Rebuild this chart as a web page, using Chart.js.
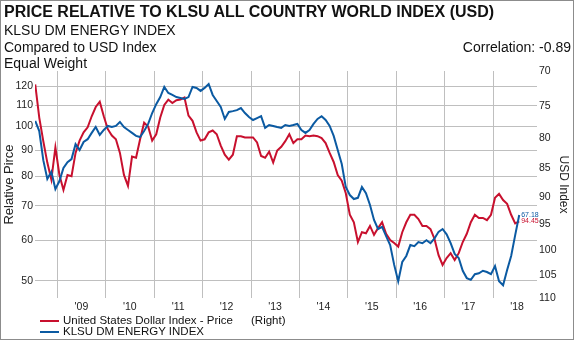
<!DOCTYPE html>
<html>
<head>
<meta charset="utf-8">
<script src="https://cdn.jsdelivr.net/npm/chart.js@4.4.1/dist/chart.umd.min.js"></script>
<style>
  body { margin: 0; background: #fff; font-family: "Liberation Sans", Arial, sans-serif; }
  #wrap { position: relative; width: 574px; height: 340px; overflow: hidden; }
  #frame { position: absolute; left: 0; top: 0; width: 574px; height: 340px; box-sizing: border-box; border: 1px solid #8c8c8c; pointer-events: none; }
  .txt { position: absolute; white-space: nowrap; line-height: 1; color: #111; }
  .sw { position: absolute; width: 19px; height: 2px; }
  canvas { position: absolute; left: 0; top: 0; }
</style>
</head>
<body>
<div id="wrap">
  <canvas id="relChart" width="574" height="340"></canvas>

  <div class="txt" style="left:4px;top:4px;font-size:16px;font-weight:bold;">PRICE RELATIVE TO KLSU ALL COUNTRY WORLD INDEX (USD)</div>
  <div class="txt" style="left:4px;top:23px;font-size:14px;">KLSU DM ENERGY INDEX</div>
  <div class="txt" style="left:4px;top:40px;font-size:14px;">Compared to USD Index</div>
  <div class="txt" style="right:3px;top:40px;font-size:14px;">Correlation: -0.89</div>
  <div class="txt" style="left:4px;top:56px;font-size:14px;">Equal Weight</div>

  <!-- legend -->
  <div class="sw" style="left:40px;top:320px;background:#c8102e;"></div>
  <div class="txt" style="left:63px;top:315px;font-size:11.5px;">United States Dollar Index - Price</div>
  <div class="txt" style="left:251px;top:315px;font-size:11.5px;">(Right)</div>
  <div class="sw" style="left:40px;top:331px;background:#0b5aa2;"></div>
  <div class="txt" style="left:63px;top:326px;font-size:11.5px;">KLSU DM ENERGY INDEX</div>

  <div id="frame"></div>
</div>

<script>
// monthly readings, Jul 2008 .. Jul 2018
const startYear = 2008;
const startMonth = 7;

// United States Dollar Index - Price (right axis)
const usdValues = [
  71.9, 76.8, 80.5, 84.0, 86.9, 81.5, 86.1, 88.7, 86.1, 86.3,
  82.4, 80.4, 79.1, 78.3, 76.6, 75.2, 74.4, 76.6, 78.6, 79.6,
  80.2, 82.4, 86.1, 88.0, 83.0, 83.2, 80.2, 77.6, 78.2, 80.4,
  79.4, 76.8, 74.9, 74.1, 74.6, 74.2, 74.1, 73.8, 76.5, 77.3,
  79.1, 80.4, 80.2, 79.1, 78.8, 79.4, 81.2, 82.7, 83.5, 82.7,
  79.7, 79.7, 79.9, 79.9, 79.9, 80.7, 82.9, 83.2, 82.2, 84.0,
  82.0, 81.4, 80.5, 79.4, 80.8, 80.2, 80.2, 79.6, 79.7, 79.6,
  79.7, 80.0, 80.8, 82.4, 83.9, 86.1, 87.1, 89.3, 93.2, 94.6,
  98.4, 96.5, 96.7, 95.3, 97.0, 95.7, 94.6, 96.8, 98.0, 98.6,
  99.3, 96.5, 94.6, 93.2, 93.2, 94.0, 95.3, 95.3, 95.9, 97.8,
  101.0, 103.0, 101.6, 100.6, 102.0, 100.6, 98.4, 96.8, 94.6, 93.2,
  93.8, 93.8, 94.2, 93.2, 90.1, 89.4, 90.5, 91.2, 93.2, 94.8,
  94.45
];

// KLSU DM ENERGY INDEX relative price (left axis)
const energyValues = [
  102.6, 98.0, 86.0, 79.0, 81.6, 75.5, 78.3, 83.0, 85.2, 86.4,
  92.4, 90.0, 93.3, 94.5, 97.2, 99.8, 96.3, 98.5, 100.3, 99.8,
  100.3, 102.1, 99.8, 98.5, 97.2, 95.9, 95.4, 98.0, 101.2, 106.3,
  110.6, 114.2, 119.5, 116.3, 115.3, 114.2, 113.7, 113.2, 114.2, 119.5,
  119.0, 117.4, 119.0, 121.1, 115.3, 112.2, 109.2, 103.5, 106.8, 107.2,
  107.7, 108.7, 106.3, 104.4, 103.0, 103.9, 104.8, 99.4, 100.7, 100.3,
  99.8, 99.4, 100.7, 100.3, 100.7, 101.2, 98.5, 97.2, 98.5, 101.2,
  103.5, 104.8, 103.0, 100.3, 95.9, 90.0, 84.5, 76.2, 73.5, 72.2,
  72.6, 76.2, 74.1, 70.3, 65.7, 63.1, 63.7, 61.1, 58.7, 53.7,
  49.9, 54.4, 55.9, 58.7, 58.4, 59.5, 59.2, 60.0, 59.2, 60.5,
  62.3, 63.1, 61.6, 59.2, 56.4, 55.4, 52.3, 50.6, 50.2, 51.5,
  51.7, 52.3, 52.0, 51.5, 53.4, 49.9, 49.0, 52.5, 55.9, 61.4,
  67.18
];

const yearTicks = [2009, 2010, 2011, 2012, 2013, 2014, 2015, 2016, 2017, 2018];
const leftTicks = [50, 60, 70, 80, 90, 100, 110, 120];
const rightTicks = [70, 75, 80, 85, 90, 95, 100, 105, 110];

const months = usdValues.map((_, i) => {
  const m = startMonth - 1 + i;
  return (startYear + Math.floor(m / 12)) + "-" + String((m % 12) + 1).padStart(2, "0");
});
const toYear = (s) => {
  const [y, m] = s.split("-").map(Number);
  return y + (m - 0.5) / 12;
};

const red = "#c8102e";
const blue = "#0b5aa2";
const gridColor = "#bfbfbf";
const tickFont = { size: 10.5 };

Chart.defaults.font.family = '"Liberation Sans", Arial, sans-serif';
Chart.defaults.color = "#222";

// value labels at the end of each line
const endLabels = {
  id: "endLabels",
  afterDatasetsDraw(chart) {
    const c = chart.ctx;
    c.save();
    c.font = '7px "Liberation Sans", Arial, sans-serif';
    c.textBaseline = "middle";
    chart.data.datasets.forEach((ds, i) => {
      const pts = chart.getDatasetMeta(i).data;
      const p = pts[pts.length - 1];
      c.fillStyle = ds.borderColor;
      c.fillText(ds.data[ds.data.length - 1].y.toFixed(2), p.x + 2, p.y);
    });
    c.restore();
  },
};

const ctx = document.getElementById("relChart").getContext("2d");
const relChart = new Chart(ctx, {
  type: "line",
  data: {
    datasets: [
      {
        label: "KLSU DM ENERGY INDEX",
        data: months.map((m, i) => ({ x: toYear(m), y: energyValues[i] })),
        borderColor: blue,
        yAxisID: "y",
        order: 0,
      },
      {
        label: "United States Dollar Index - Price",
        data: months.map((m, i) => ({ x: toYear(m), y: usdValues[i] })),
        borderColor: red,
        yAxisID: "y1",
        order: 1,
      },
    ],
  },
  options: {
    responsive: false,
    animation: false,
    devicePixelRatio: 1,
    layout: { padding: { top: 71, bottom: 26, left: 0, right: 0 } },
    plugins: { legend: { display: false }, tooltip: { enabled: false } },
    elements: {
      point: { radius: 0 },
      line: { borderWidth: 2, tension: 0 },
    },
    scales: {
      x: {
        type: "linear",
        min: 2008.537,
        max: 2018.909,
        afterBuildTicks: (s) => { s.ticks = yearTicks.map((v) => ({ value: v })); },
        afterFit: (s) => { s.height = 16; },
        grid: { color: gridColor, drawTicks: false },
        border: { display: false },
        ticks: {
          font: tickFont,
          padding: 3,
          labelOffset: 24,
          maxRotation: 0,
          autoSkip: false,
          callback: (v) => "'" + String(v).slice(2),
        },
      },
      y: {
        type: "logarithmic",
        position: "left",
        min: 46.27,
        max: 128.4,
        afterBuildTicks: (s) => { s.ticks = leftTicks.map((v) => ({ value: v })); },
        afterFit: (s) => { s.width = 35; },
        grid: { color: gridColor, drawTicks: false },
        border: { display: false },
        ticks: { font: tickFont, padding: 2, callback: (v) => String(v) },
        title: { display: true, text: "Relative Pirce", font: { size: 13 }, padding: { top: 2, bottom: 0 } },
      },
      y1: {
        type: "logarithmic",
        position: "right",
        reverse: true,
        min: 70,
        max: 110,
        afterBuildTicks: (s) => { s.ticks = rightTicks.map((v) => ({ value: v })); },
        afterFit: (s) => { s.width = 37; },
        grid: { drawOnChartArea: false, drawTicks: false },
        border: { display: false },
        ticks: { font: tickFont, padding: 2, callback: (v) => String(v) },
        title: { display: true, text: "USD Index", font: { size: 12 }, padding: { top: 3, bottom: 0 } },
      },
    },
  },
  plugins: [endLabels],
});
</script>
</body>
</html>
